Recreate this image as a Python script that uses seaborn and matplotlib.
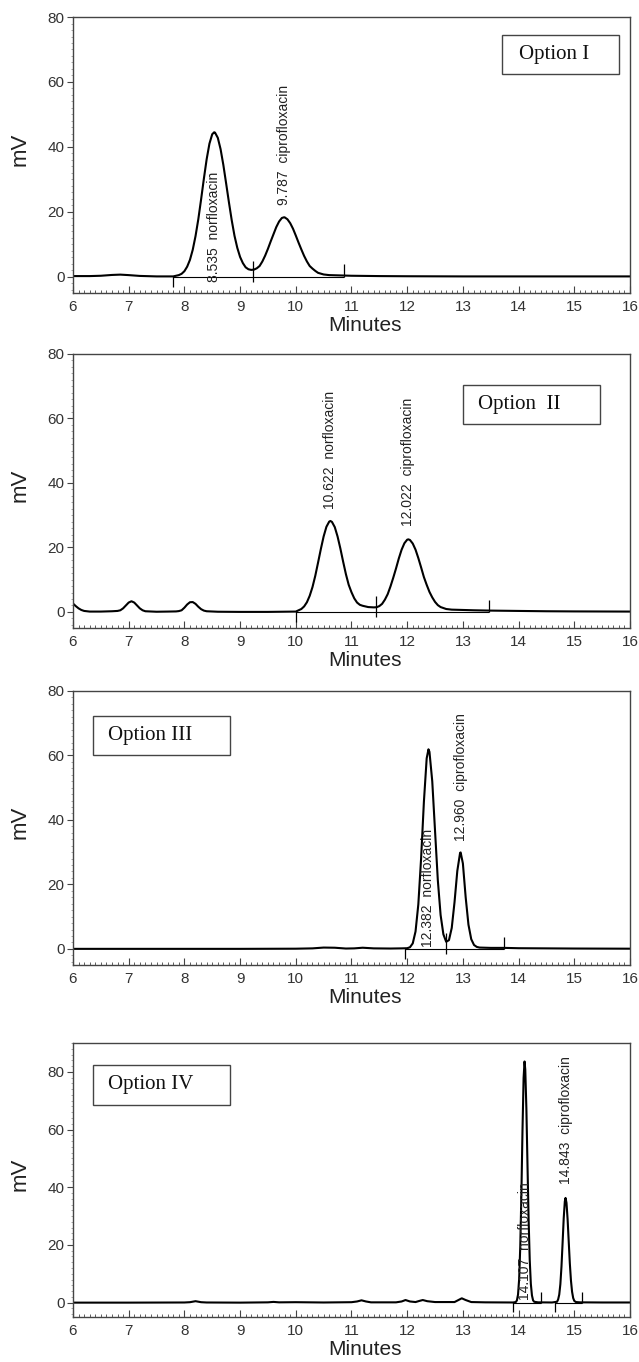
import matplotlib
matplotlib.use("Agg")
import matplotlib.pyplot as plt
from matplotlib.patches import Rectangle
from matplotlib.ticker import MultipleLocator
import seaborn as sns

# chromatogram traces: time (min) and signal (mV)
p1_t = [6.0, 6.3, 6.5, 6.7, 6.85, 7.0, 7.2, 7.5, 7.8, 7.85, 7.9, 7.95, 8.0, 8.05, 8.1,
        8.15, 8.2, 8.25, 8.3, 8.35, 8.4, 8.45, 8.5, 8.535, 8.55, 8.6, 8.65, 8.7, 8.75,
        8.8, 8.85, 8.9, 8.95, 9.0, 9.05, 9.1, 9.15, 9.2, 9.25, 9.3, 9.35, 9.4, 9.45,
        9.5, 9.55, 9.6, 9.65, 9.7, 9.75, 9.787, 9.8, 9.85, 9.9, 9.95, 10.0, 10.05,
        10.1, 10.15, 10.2, 10.25, 10.3, 10.35, 10.4, 10.5, 10.6, 10.8, 11.0, 11.5,
        12.0, 13.0, 14.0, 15.0, 16.0]
p1_mv = [0.2, 0.2, 0.3, 0.55, 0.65, 0.5, 0.25, 0.1, 0.1, 0.3, 0.5, 0.9, 1.7, 3.1, 5.2,
         8.3, 12.5, 17.7, 23.8, 30.2, 36.2, 41.0, 43.9, 44.5, 44.4, 42.8, 39.3, 34.4, 28.7,
         22.9, 17.4, 12.6, 8.9, 6.1, 4.2, 2.9, 2.3, 2.1, 2.2, 2.6, 3.3, 4.7, 6.5,
         8.6, 10.9, 13.1, 15.3, 17.0, 18.1, 18.3, 18.3, 17.7, 16.5, 14.8, 12.7, 10.5,
         8.4, 6.4, 4.7, 3.3, 2.5, 1.8, 1.2, 0.7, 0.5, 0.4, 0.3, 0.2,
         0.15, 0.1, 0.1, 0.1, 0.1]

p2_t = [6.0, 6.05, 6.1, 6.15, 6.2, 6.3, 6.5, 6.7, 6.8, 6.85, 6.9, 6.95, 7.0, 7.05, 7.1,
        7.15, 7.2, 7.25, 7.3, 7.5, 7.7, 7.85, 7.9, 7.95, 8.0, 8.05, 8.1, 8.15, 8.2,
        8.25, 8.3, 8.35, 8.4, 8.6, 9.0, 9.5, 10.0, 10.1, 10.15, 10.2, 10.25, 10.3,
        10.35, 10.4, 10.45, 10.5, 10.55, 10.6, 10.622, 10.65, 10.7, 10.75, 10.8, 10.85,
        10.9, 10.95, 11.0, 11.05, 11.1, 11.15, 11.2, 11.3, 11.4, 11.45, 11.5, 11.55,
        11.6, 11.65, 11.7, 11.75, 11.8, 11.85, 11.9, 11.95, 12.0, 12.022, 12.05, 12.1,
        12.15, 12.2, 12.25, 12.3, 12.35, 12.4, 12.45, 12.5, 12.55, 12.6, 12.7, 12.8,
        13.0, 13.2, 13.5, 14.0, 14.5, 15.0, 16.0]
p2_mv = [2.6, 1.8, 1.1, 0.6, 0.3, 0.1, 0.1, 0.2, 0.3, 0.5, 1.1, 2.0, 2.9, 3.3, 2.9,
         2.0, 1.1, 0.5, 0.2, 0.05, 0.1, 0.15, 0.25, 0.5, 1.3, 2.3, 3.0, 3.05, 2.5,
         1.6, 0.85, 0.4, 0.2, 0.05, 0.0, 0.0, 0.1, 0.9, 1.7, 3.0, 5.0, 7.7,
         11.2, 15.3, 19.5, 23.4, 26.4, 28.0, 28.2, 27.9, 26.3, 23.4, 19.7, 15.6,
         11.7, 8.4, 6.1, 4.2, 2.9, 2.2, 1.9, 1.5, 1.4, 1.45, 1.8, 2.5,
         3.8, 5.5, 7.9, 10.6, 13.5, 16.6, 19.3, 21.3, 22.4, 22.5, 22.3, 21.2,
         19.3, 16.7, 13.8, 10.8, 8.4, 6.2, 4.5, 3.1, 2.1, 1.5, 0.9, 0.7,
         0.6, 0.5, 0.4, 0.3, 0.2, 0.15, 0.1]

p3_t = [6.0, 7.0, 8.0, 9.0, 10.0, 10.3, 10.5, 10.7, 10.9, 11.05, 11.2, 11.4, 11.7, 11.9,
        12.0, 12.05, 12.1, 12.15, 12.2, 12.25, 12.3, 12.35, 12.382, 12.4, 12.45, 12.5,
        12.55, 12.6, 12.65, 12.7, 12.75, 12.8, 12.85, 12.9, 12.95, 12.96, 13.0, 13.05,
        13.1, 13.15, 13.2, 13.25, 13.3, 13.5, 13.75, 14.0, 14.5, 15.0, 16.0]
p3_mv = [0.0, 0.0, 0.0, 0.0, 0.05, 0.15, 0.4, 0.35, 0.1, 0.15, 0.35, 0.15, 0.1, 0.15,
         0.2, 0.5, 1.7, 5.4, 13.8, 28.1, 45.6, 59.1, 61.9, 61.1, 52.0, 36.6,
         21.3, 10.5, 4.5, 2.2, 2.7, 6.5, 14.5, 24.2, 29.8, 29.9, 26.5, 16.0,
         7.5, 3.0, 1.2, 0.6, 0.4, 0.3, 0.3, 0.2, 0.15, 0.1, 0.05]

p4_t = [6.0, 7.0, 8.0, 8.1, 8.2, 8.3, 8.4, 9.0, 9.5, 9.6, 9.7, 10.0, 10.5, 11.0, 11.1,
        11.18, 11.26, 11.35, 11.8, 11.9, 11.97, 12.05, 12.15, 12.22, 12.28, 12.36, 12.5,
        12.85, 12.92, 12.98, 13.05, 13.15, 13.4, 13.9, 13.95, 13.97, 13.99, 14.01, 14.03,
        14.05, 14.07, 14.09, 14.107, 14.12, 14.14, 14.16, 14.18, 14.2, 14.22, 14.24,
        14.26, 14.28, 14.35, 14.6, 14.69, 14.71, 14.73, 14.75, 14.77, 14.79, 14.81,
        14.83, 14.843, 14.86, 14.88, 14.9, 14.92, 14.94, 14.96, 14.98, 15.0, 15.03,
        15.1, 15.5, 16.0]
p4_mv = [0.0, 0.0, 0.05, 0.15, 0.5, 0.15, 0.05, 0.0, 0.1, 0.25, 0.1, 0.15, 0.05, 0.15, 0.4,
         0.8, 0.4, 0.1, 0.1, 0.4, 0.9, 0.4, 0.2, 0.6, 0.9, 0.5, 0.2,
         0.2, 0.9, 1.5, 0.9, 0.2, 0.1, 0.05, 0.2, 0.8, 2.8, 8.1, 19.4,
         37.4, 59.6, 77.9, 83.6, 80.8, 67.2, 47.6, 28.8, 14.8, 6.5, 2.5,
         0.8, 0.3, 0.1, 0.05, 0.3, 1.1, 2.8, 6.4, 12.5, 20.7, 29.2,
         35.1, 36.3, 34.6, 28.9, 21.2, 13.6, 7.7, 3.8, 1.6, 0.6, 0.2,
         0.1, 0.05, 0.05]

# peak retention times (labels) and names
p1_rt = [8.535, 9.787]
p2_rt = [10.622, 12.022]
p3_rt = [12.382, 12.960]
p4_rt = [14.107, 14.843]
peak_names = ["norfloxacin", "ciprofloxacin"]

# integration marks on the baseline
p1_marks = [7.79, 9.226, 10.857]
p2_marks = [10.0, 11.44, 13.47]
p3_marks = [11.96, 12.70, 13.73]
p4_marks = [13.905, 14.41, 14.65, 15.13]
p1_kinds = ["down", "cross", "up"]
p2_kinds = ["down", "cross", "up"]
p3_kinds = ["down", "cross", "up"]
p4_kinds = ["down", "up", "down", "up"]

option_names = ["Option I", "Option  II", "Option III", "Option IV"]

sns.set_style("ticks")
plt.rcParams["font.family"] = ["Liberation Sans", "DejaVu Sans"]

panels = [
    dict(t=p1_t, mv=p1_mv, rt=p1_rt, marks=p1_marks, kinds=p1_kinds, top=80,
         rect=[0.1142, 0.7849, 0.8717, 0.2026], lab_y=[-1.5, 22.0],
         box=[0.770, 0.793, 0.211, 0.142], tx=0.800, segs=[(0, 2)]),
    dict(t=p2_t, mv=p2_mv, rt=p2_rt, marks=p2_marks, kinds=p2_kinds, top=80,
         rect=[0.1142, 0.5389, 0.8717, 0.2012], lab_y=[32.0, 26.5],
         box=[0.701, 0.743, 0.246, 0.144], tx=0.727, segs=[(0, 2)]),
    dict(t=p3_t, mv=p3_mv, rt=p3_rt, marks=p3_marks, kinds=p3_kinds, top=80,
         rect=[0.1142, 0.2915, 0.8717, 0.2012], lab_y=[0.5, 33.5],
         box=[0.0366, 0.766, 0.245, 0.143], tx=0.0626, segs=[(0, 2)]),
    dict(t=p4_t, mv=p4_mv, rt=p4_rt, marks=p4_marks, kinds=p4_kinds, top=90,
         rect=[0.1142, 0.0330, 0.8717, 0.2012], lab_y=[0.8, 41.0],
         box=[0.0366, 0.774, 0.245, 0.146], tx=0.0626, segs=[(0, 1), (2, 3)]),
]
mark_span = {"down": (-3.2, 0.2), "up": (0.0, 3.8), "cross": (-1.5, 4.8)}
edge = "#444444"

fig = plt.figure(figsize=(6.39, 13.62), dpi=100)

for i, p in enumerate(panels):
    ax = fig.add_axes(p["rect"])
    sns.lineplot(x=p["t"], y=p["mv"], ax=ax, color="black", lw=1.5,
                 estimator=None, sort=False)

    # integration baseline and marks
    for a, b in p["segs"]:
        ax.hlines(0, p["marks"][a], p["marks"][b], color="black", lw=0.8)
    for m, k in zip(p["marks"], p["kinds"]):
        lo, hi = mark_span[k]
        ax.vlines(m, lo, hi, color="black", lw=0.9)

    # peak labels
    for rt, name, ly in zip(p["rt"], peak_names, p["lab_y"]):
        ax.text(rt, ly, f"{rt:.3f}  {name}", rotation=90, ha="center", va="bottom",
                fontsize=10, color="#222222")

    # option box
    bx, by, bw, bh = p["box"]
    ax.add_patch(Rectangle((bx, by), bw, bh, transform=ax.transAxes, fill=False,
                           edgecolor=edge, lw=1.0))
    ax.text(p["tx"], by + bh / 2, option_names[i], transform=ax.transAxes,
            ha="left", va="center", fontsize=15, family=["Liberation Serif"],
            color="#111111")

    ax.set_xlim(6, 16)
    ax.set_ylim(-5, p["top"])
    ax.xaxis.set_major_locator(MultipleLocator(1))
    ax.xaxis.set_minor_locator(MultipleLocator(0.1))
    ax.yaxis.set_major_locator(MultipleLocator(20))
    ax.yaxis.set_minor_locator(MultipleLocator(2))
    ax.tick_params(axis="x", which="major", direction="in", length=5, width=0.8,
                   color=edge, labelsize=11, labelcolor="#333333", pad=5)
    ax.tick_params(axis="x", which="minor", direction="in", length=2.5, width=0.6,
                   color=edge)
    ax.tick_params(axis="y", which="major", direction="out", length=4, width=0.8,
                   color=edge, labelsize=11, labelcolor="#333333", pad=2)
    ax.tick_params(axis="y", which="minor", direction="out", length=1.8, width=0.5,
                   color="#888888")
    for s in ax.spines.values():
        s.set_visible(True)
        s.set_color(edge)
        s.set_linewidth(1.0)

    ax.set_xlabel("Minutes", fontsize=15, color="#222222")
    ax.set_ylabel("mV", fontsize=16, color="#222222")
    ax.xaxis.set_label_coords(0.524, -0.085)
    ax.yaxis.set_label_coords(-0.077, 0.52)

fig.savefig("out.png", dpi=100)
